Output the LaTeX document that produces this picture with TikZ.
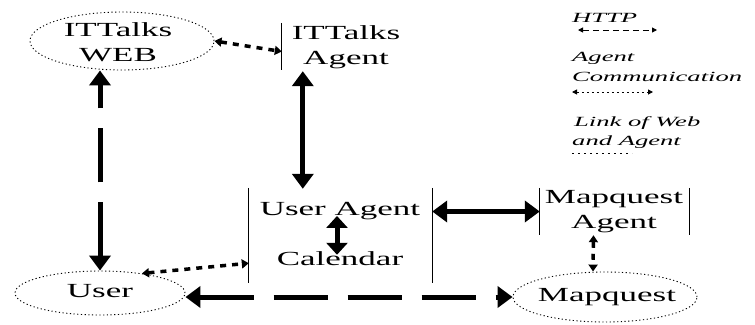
\documentclass[tikz,border=0pt]{standalone}
\usepackage{fontspec}
\setmainfont{Liberation Serif}
\usetikzlibrary{arrows.meta,calc,shapes.geometric}
\newcommand{\wideA}[1]{\scalebox{1.75}[1]{#1}}
\newcommand{\wideB}[1]{\scalebox{1.9}[1]{#1}}
\begin{document}
\begin{tikzpicture}[x=1pt,y=-1pt,
  lbl/.style={font=\fontsize{20}{25}\selectfont, inner sep=0pt, align=center},
  leg/.style={font=\fontsize{14}{16}\selectfont\itshape, anchor=west, inner sep=0pt},
  oval/.style={ellipse, draw, line width=0.9pt, dash pattern=on 1.2pt off 2.5pt, inner sep=0pt},
  box/.style={draw=none, inner sep=0pt},
  bar/.style={line width=1.2pt},
  http/.style={line width=5pt, dash pattern=on 54pt off 20pt, {Triangle[length=15pt,width=21pt]}-{Triangle[length=15pt,width=21pt]}},
  acl/.style={line width=5pt, {Triangle[length=15pt,width=21pt]}-{Triangle[length=15pt,width=21pt]}},
  link/.style={line width=3.5pt, dash pattern=on 6pt off 6pt, {Triangle[length=7pt,width=9pt]}-{Triangle[length=7pt,width=9pt]}},
  leghttp/.style={line width=1pt, dash pattern=on 6pt off 4pt, {Triangle[length=5pt,width=5pt]}-{Triangle[length=5pt,width=5pt]}},
  legacl/.style={line width=1pt, dash pattern=on 2pt off 3pt, {Triangle[length=5pt,width=5pt]}-{Triangle[length=5pt,width=5pt]}},
  leglink/.style={line width=1pt, dash pattern=on 2pt off 4pt}]
\useasboundingbox (0,0) rectangle (755,324);

% ellipses
\node[oval, minimum width=184pt, minimum height=58pt] (web) at (122,41) {};
\node[lbl] (webt) at (118,42) {\wideA{ITTalks}\\\wideA{WEB}};
\node[oval, minimum width=170pt, minimum height=44pt] (user) at (100,293) {};
\node[lbl] (usert) at (100,291) {\wideA{User}};
\node[oval, minimum width=184pt, minimum height=50pt] (mq) at (605,297) {};
\node[lbl] (mqt) at (607,297) {\wideA{Mapquest}};

% agent boxes
\node[box, minimum width=128pt, minimum height=47pt] (ita) at (346,46.5) {};
\node[lbl] (itat) at (346,47) {\wideA{ITTalks}\\\wideA{Agent}};
\draw[bar] (ita.north west) -- (ita.south west);

\node[box, minimum width=183pt, minimum height=95pt] (ua) at (340.5,235.5) {};
\draw[bar] (ua.north west) -- (ua.south west);
\draw[bar] (ua.north east) -- (ua.south east);
\node[lbl] (uat) at (340,211) {\wideA{User Agent}};
\node[lbl] (cal) at (340,259) {\wideA{Calendar}};

\node[box, minimum width=149pt, minimum height=47pt] (ma) at (614.5,211.5) {};
\draw[bar] (ma.north west) -- (ma.south west);
\draw[bar] (ma.north east) -- (ma.south east);
\node[lbl] (mat) at (614,212) {\wideA{Mapquest}\\\wideA{Agent}};

% connectors
\draw[http] (user.north) -- (user.north |- web.south);
\draw[http] (user.east |- mq.west) -- (mq.west);
\draw[acl] ($(ita.south west)+(21,1)$) -- ($(ua.north west)+(54,1)$);
\draw[acl] (ua.east |- ma.west) -- (ma.west);
\draw[line width=5pt, {Triangle[length=12pt,width=21pt]}-{Triangle[length=12pt,width=21pt]}] ($(uat.south)+(-3,-4)$) -- ($(cal.north)+(-3,3)$);
\draw[link] (web.east) -- ($(ita.west)+(0,5)$);
\draw[link] (user.25) -- ($(ua.south west)+(0,-20)$);
\draw[link] ($(ma.south)+(-21,0)$) -- ($(mq.north)+(-12,0)$);

% legend
\node[leg] (l1) at (572,18) {\wideB{HTTP}};
\coordinate (l1a) at (578,30);
\coordinate (l1b) at (657,30);
\draw[leghttp] (l1a) -- (l1b);
\node[leg] (l2) at (572,58) {\wideB{Agent}};
\node[leg] (l3) at (572,77) {\wideB{Communication}};
\coordinate (l2a) at (572,92);
\coordinate (l2b) at (653,92);
\draw[legacl] (l2a) -- (l2b);
\node[leg] (l4) at (574,123) {\wideB{Link of Web}};
\node[leg] (l5) at (572,142) {\wideB{and Agent}};
\coordinate (l3a) at (572,153);
\coordinate (l3b) at (632,153);
\draw[leglink] (l3a) -- (l3b);
\end{tikzpicture}
\end{document}
